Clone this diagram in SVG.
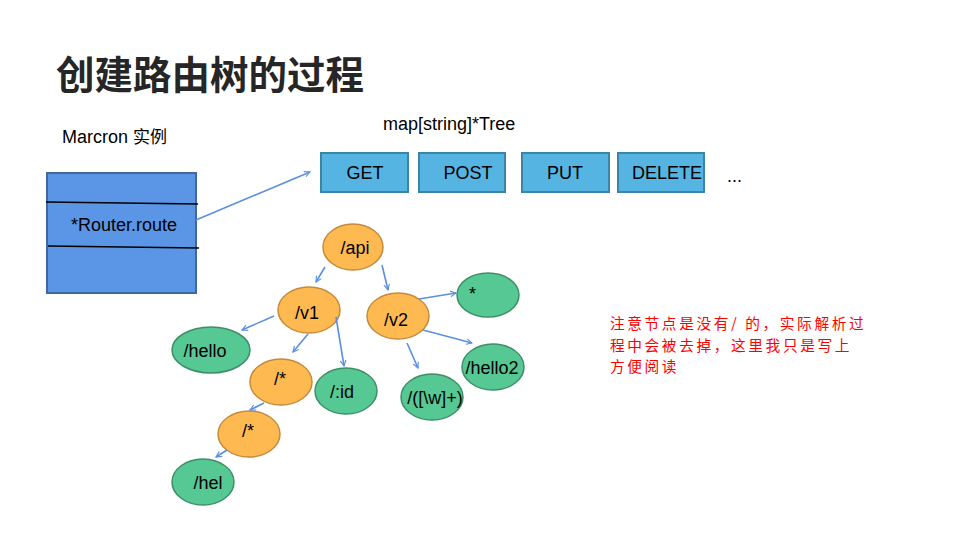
<svg xmlns="http://www.w3.org/2000/svg" width="960" height="540" viewBox="0 0 960 540">
<defs>
<style>
.t{font-family:"Liberation Sans",Arial,sans-serif;font-size:18px;fill:#000}
.tc{text-anchor:middle}
.or{fill:#ffb951;stroke:#c48b3c;stroke-width:1.5}
.gr{fill:#55c893;stroke:#3e8f67;stroke-width:1.5}
.mb{fill:#56b4e3;stroke:#3a84a6;stroke-width:2}
.ar{stroke:#5b8fe0;stroke-width:1.6;fill:none;marker-end:url(#ah)}
</style>
<marker id="ah" viewBox="0 0 10 10" refX="9" refY="5" markerWidth="7" markerHeight="7" orient="auto" markerUnits="userSpaceOnUse">
<path d="M1,1 L9,5 L1,9" fill="none" stroke="#5b8fe0" stroke-width="1.6"/>
</marker>
</defs>
<rect width="960" height="540" fill="#fff"/>
<text x="56" y="89" font-family="'Noto Sans CJK SC',sans-serif" font-weight="bold" font-size="38.5" fill="#262626">创建路由树的过程</text>
<text class="t" x="62" y="143">Marcron <tspan font-family="'Noto Sans CJK SC',sans-serif" font-size="17">实例</tspan></text>
<g id="router">
<rect x="47" y="173" width="149" height="120" fill="#5b95e5" stroke="#41679c" stroke-width="2"/>
<line x1="46" y1="202" x2="198" y2="204" stroke="#000" stroke-width="1.5"/>
<line x1="48" y1="246" x2="199" y2="248" stroke="#000" stroke-width="1.5"/>
<text class="t" x="71" y="231">*Router.route</text>
</g>
<text class="t" x="383" y="130">map[string]*Tree</text>
<g id="get"><rect class="mb" x="321" y="153" width="87" height="39"/><text class="t tc" x="365" y="179">GET</text></g>
<g id="post"><rect class="mb" x="419" y="153" width="86" height="39"/><text class="t tc" x="468" y="179">POST</text></g>
<g id="put"><rect class="mb" x="522" y="153" width="87" height="39"/><text class="t tc" x="565" y="179">PUT</text></g>
<g id="delete"><rect class="mb" x="618" y="153" width="86" height="39"/><text class="t tc" x="667" y="179">DELETE</text></g>
<text class="t" x="727" y="182">...</text>
<g id="n-api"><ellipse class="or" cx="353" cy="247" rx="30" ry="23"/><text class="t tc" x="355" y="254">/api</text></g>
<g id="n-v1"><ellipse class="or" cx="309" cy="310" rx="31" ry="23"/><text class="t tc" x="307" y="319">/v1</text></g>
<g id="n-v2"><ellipse class="or" cx="398" cy="316" rx="31" ry="23"/><text class="t tc" x="396" y="326">/v2</text></g>
<g id="n-star"><ellipse class="gr" cx="488" cy="295" rx="31" ry="22"/><text class="t" x="469" y="300">*</text></g>
<g id="n-hello"><ellipse class="gr" cx="211" cy="350" rx="39" ry="23"/><text class="t tc" x="205" y="357">/hello</text></g>
<g id="n-s1"><ellipse class="or" cx="281" cy="382" rx="31" ry="23"/><text class="t tc" x="280" y="385">/*</text></g>
<g id="n-id"><ellipse class="gr" cx="346" cy="391" rx="31" ry="23"/><text class="t tc" x="342" y="398">/:id</text></g>
<g id="n-hello2"><ellipse class="gr" cx="493" cy="367" rx="31" ry="23"/><text class="t tc" x="492" y="374">/hello2</text></g>
<g id="n-w"><ellipse class="gr" cx="432" cy="397" rx="31" ry="23"/><text class="t tc" x="435" y="404">/([\w]+)</text></g>
<g id="n-s2"><ellipse class="or" cx="249" cy="434" rx="31" ry="23"/><text class="t tc" x="248" y="437">/*</text></g>
<g id="n-hel"><ellipse class="gr" cx="203" cy="482" rx="31" ry="23"/><text class="t tc" x="208" y="489">/hel</text></g>
<g id="connectors">
<line class="ar" x1="196" y1="220" x2="310" y2="172"/>
<line class="ar" x1="325" y1="267" x2="316" y2="282"/>
<line class="ar" x1="382" y1="265" x2="388" y2="290"/>
<line class="ar" x1="419" y1="299" x2="456" y2="293"/>
<line class="ar" x1="274" y1="316" x2="242" y2="330"/>
<line class="ar" x1="308" y1="334" x2="293" y2="352"/>
<line class="ar" x1="336" y1="317" x2="344" y2="366"/>
<line class="ar" x1="423" y1="330" x2="472" y2="343"/>
<line class="ar" x1="407" y1="343" x2="418" y2="368"/>
<line class="ar" x1="264" y1="403" x2="250" y2="410"/>
<line class="ar" x1="227" y1="450" x2="216" y2="457"/>
</g>
<g font-family="'Noto Sans CJK SC',sans-serif" font-size="14.7" letter-spacing="2.6" fill="#ff0000">
<text x="610" y="329">注意节点是没有/ 的，实际解析过</text>
<text x="610" y="350.5">程中会被去掉，这里我只是写上</text>
<text x="610" y="372">方便阅读</text>
</g>
</svg>
